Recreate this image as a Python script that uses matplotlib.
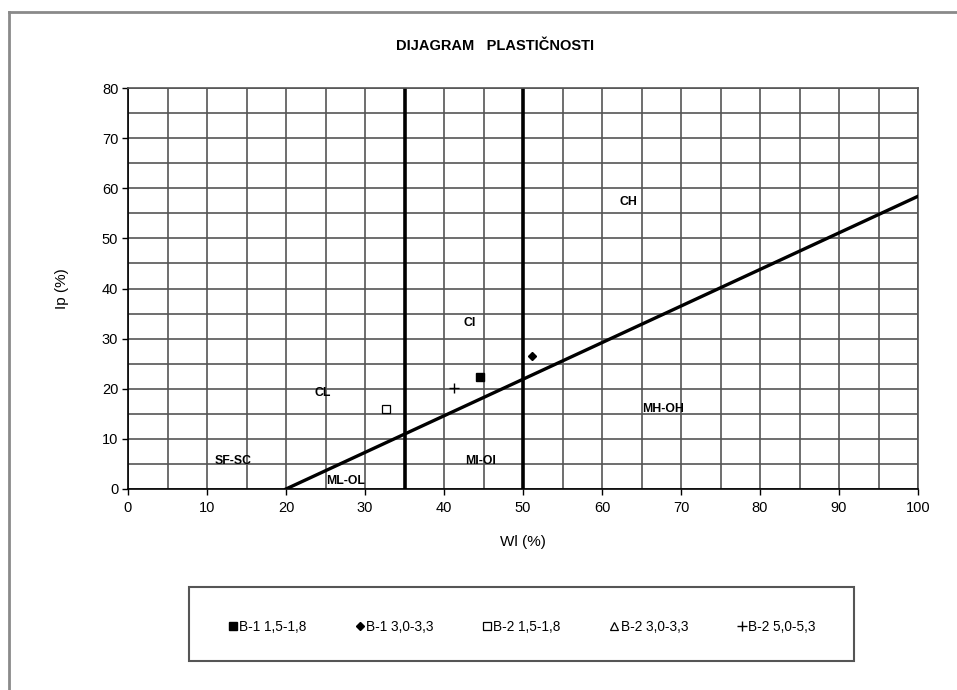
import matplotlib
matplotlib.use("Agg")
import matplotlib.pyplot as plt
from matplotlib.patches import Rectangle
from matplotlib.lines import Line2D
import numpy as np

plt.rcParams['font.family'] = ['Liberation Sans', 'DejaVu Sans']

# Data
series_labels = ["B-1 1,5-1,8", "B-1 3,0-3,3", "B-2 1,5-1,8", "B-2 3,0-3,3", "B-2 5,0-5,3"]
series_wl = [[44.6], [51.1], [32.7], [], [41.3]]
series_ip = [[22.3], [26.5], [15.9], [], [20.2]]

aline_wl = [20, 100]
aline_ip = [0, 0.73 * (100 - 20)]
boundary_wl = [35, 50]

zone_names = ["CH", "CI", "CL", "MH-OH", "MI-OI", "ML-OL", "SF-SC"]
zone_wl = [63.4, 43.2, 24.7, 67.7, 44.6, 27.6, 13.3]
zone_ip = [57.3, 33.1, 19.2, 16.0, 5.6, 1.6, 5.6]

W, H = 957, 690
fig = plt.figure(figsize=(W / 100, H / 100), dpi=100)
fig.patch.set_facecolor('white')

# Outer frame (top and left visible)
fig.add_artist(Line2D([9 / W, 9 / W], [0, 1 - 12 / H], transform=fig.transFigure,
                      color='#8a8a8a', lw=2))
fig.add_artist(Line2D([9 / W, 1.0], [1 - 12 / H, 1 - 12 / H], transform=fig.transFigure,
                      color='#8a8a8a', lw=2))

ax = fig.add_axes([128 / W, 1 - 489 / H, (918 - 128) / W, (489 - 88) / H])
ax.set_xlim(0, 100)
ax.set_ylim(0, 80)
ax.set_xticks(np.arange(0, 101, 10))
ax.set_yticks(np.arange(0, 81, 10))
ax.set_xticks(np.arange(0, 101, 5), minor=True)
ax.set_yticks(np.arange(0, 81, 5), minor=True)
ax.grid(True, which='both', color='#555555', lw=1.2)
ax.set_axisbelow(True)
ax.tick_params(which='minor', length=0)
ax.tick_params(which='major', length=4, width=1, labelsize=10.5)
ax.tick_params(axis='x', pad=5)
ax.tick_params(axis='y', pad=3)
for s in ax.spines.values():
    s.set_color('black')
    s.set_linewidth(1.2)
ax.spines['top'].set_color('#555555')
ax.spines['right'].set_color('#555555')

for b in boundary_wl:
    ax.axvline(b, color='black', lw=2.6, zorder=2)
ax.plot(aline_wl, aline_ip, color='black', lw=2.4, zorder=3)

for name, x, y in zip(zone_names, zone_wl, zone_ip):
    ax.text(x, y, name, fontsize=8.8, fontweight='bold', ha='center', va='center', zorder=4)

markers = [dict(marker='s', mfc='black', mec='black', ms=6),
           dict(marker='D', mfc='black', mec='black', ms=4.5),
           dict(marker='s', mfc='white', mec='black', ms=6, mew=0.9),
           dict(marker='^', mfc='white', mec='black', ms=6, mew=0.9),
           dict(marker='+', mfc='black', mec='black', ms=7, mew=1)]
handles = []
for lab, xs, ys, m in zip(series_labels, series_wl, series_ip, markers):
    h, = ax.plot(xs, ys, ls='none', label=lab, zorder=5, **m)
    handles.append(h)

ax.set_xlabel("Wl (%)", fontsize=11, labelpad=14)
ax.set_ylabel("Ip (%)", fontsize=11, labelpad=24)

fig.text(495 / W, 1 - 46 / H, "DIJAGRAM   PLASTIČNOSTI", fontsize=10.5, fontweight='bold',
         ha='center', va='center')

# Legend box
fig.add_artist(Rectangle((189 / W, 1 - 661 / H), (854 - 189) / W, (661 - 587) / H,
                         transform=fig.transFigure, fill=False, ec='#555555', lw=1.5))
fig.legend(handles=handles, loc='center', bbox_to_anchor=(522 / W, 1 - 627 / H),
           ncol=5, frameon=False, fontsize=9.8, handlelength=0.6, handletextpad=0.15,
           columnspacing=3.65)

fig.savefig("out.png", dpi=100)
